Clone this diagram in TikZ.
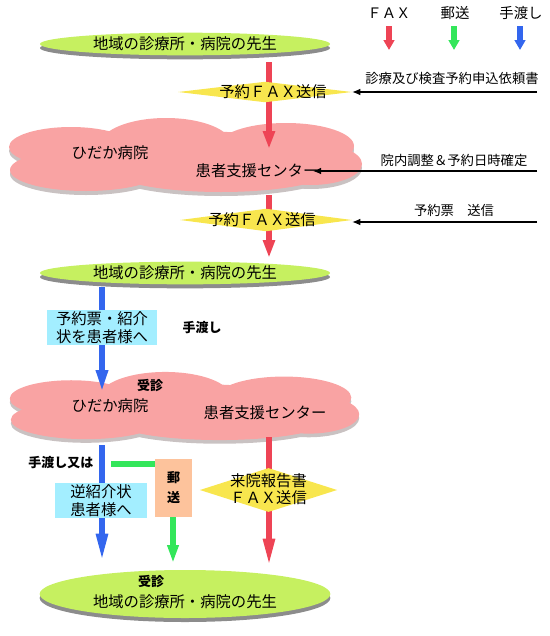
\documentclass[tikz,border=0pt]{standalone}
\usepackage{fontspec}
\setmainfont{Noto Sans CJK JP}
\usetikzlibrary{arrows.meta,shapes.geometric,shadows}
\definecolor{faxred}{HTML}{EE4455}
\definecolor{postgreen}{HTML}{33E65A}
\definecolor{handblue}{HTML}{3366EE}
\definecolor{doctorfill}{HTML}{C6F060}
\definecolor{hospfill}{HTML}{F9A3A3}
\definecolor{hospshade}{HTML}{C9C2C2}
\definecolor{faxfill}{HTML}{F8E64E}
\definecolor{handfill}{HTML}{A3EEFF}
\definecolor{postfill}{HTML}{FDC39C}
\tikzset{
  font=\fontsize{11.5pt}{13.5pt}\selectfont,
  faxflow/.style={draw=faxred, line width=4.5pt, -{Triangle[length=13.5pt,width=8.5pt]}},
  postflow/.style={draw=postgreen, line width=5pt, -{Triangle[length=13.5pt,width=8pt]}},
  handflow/.style={draw=handblue, line width=4.5pt, -{Triangle[length=18pt,width=8pt]}},
  legendtip/.style={-{Triangle[length=7.5pt,width=8pt]}},
  longtip/.style={-{Triangle[length=22pt,width=8pt]}},
  reqflow/.style={draw=black, line width=.8pt, -{Latex[length=6pt,width=5pt]}},
  doctor/.style={ellipse, fill=doctorfill, minimum width=217.5pt,
    minimum height=17pt, inner sep=0pt,
    drop shadow={shadow xshift=0pt, shadow yshift=-3pt, opacity=.45, fill=black}},
  faxsend/.style={diamond, fill=faxfill, inner sep=0pt},
  handbox/.style={fill=handfill, align=center, inner sep=0pt,
    minimum height=26.25pt},
  postbox/.style={fill=postfill, align=center, inner sep=0pt,
    font=\bfseries\fontsize{9.75pt}{15pt}\selectfont},
  note/.style={font=\fontsize{10pt}{12pt}\selectfont},
  tag/.style={font=\bfseries\fontsize{9.75pt}{12pt}\selectfont},
  legend/.style={font=\fontsize{10.8pt}{13pt}\selectfont}
}
% cloud made of overlapping ellipses: name, centre, xscale, yscale
\newcommand{\HospitalCloud}[4]{%
  \node[inner sep=0pt, minimum width=#3*264pt, minimum height=#4*55.5pt] (#1) at #2 {};
  \begin{scope}[shift={(#1.center)}, xscale=#3, yscale=#4]
    \foreach \dy/\col in {4/hospshade, 0/hospfill} {
      \fill[\col, shift={(0,\dy)}]
        (-115,-8) ellipse [x radius=62, y radius=20]
        (-20,-10) ellipse [x radius=66, y radius=27]
        (100,-9) ellipse [x radius=68, y radius=23]
        (-100,15) ellipse [x radius=76, y radius=21]
        (35,14) ellipse [x radius=112, y radius=23]
        (125,9) ellipse [x radius=51, y radius=21]
        (0,2) ellipse [x radius=150, y radius=26];
    }
  \end{scope}
}

\begin{document}
\begin{tikzpicture}[x=.75pt,y=-.75pt]
  \useasboundingbox (0,0) rectangle (550,636);

  % legend
  \node[legend] (lfax) at (389,13) {ＦＡＸ};
  \node[legend] (lpost) at (455,13) {郵送};
  \node[legend] (lhand) at (521,13) {手渡し};
  \foreach \name/\x/\kind in {lfax/389/faxflow, lpost/454/postflow, lhand/520/handflow} {
    \coordinate (\name a) at (\x,26);
    \coordinate (\name b) at (\x,50);
    \draw[\kind, legendtip] (\name a) -- (\name b);
  }

  % doctors and hospital
  \node[doctor] (doc1) at (185,44) {地域の診療所・病院の先生};
  \HospitalCloud{hosp1}{(186,155)}{1}{1}
  \node[doctor] (doc2) at (185,273) {地域の診療所・病院の先生};
  \HospitalCloud{hosp2}{(185,406)}{.99}{.92}
  \node[doctor, minimum width=218pt, minimum height=36pt] (doc3) at (185,594) {};

  % colored flows
  \coordinate (fax1a) at (269,62);  \coordinate (fax1b) at (269,149);
  \coordinate (fax2a) at (269,195); \coordinate (fax2b) at (269,258);
  \coordinate (fax3a) at (269,437); \coordinate (fax3b) at (269,568);
  \coordinate (hand1a) at (102,287); \coordinate (hand1b) at (102,394);
  \coordinate (hand2a) at (102,445); \coordinate (hand2b) at (102,563);
  \coordinate (post1a) at (111,464); \coordinate (post1b) at (173,563);
  \draw[faxflow] (fax1a) -- (fax1b);
  \draw[faxflow] (fax2a) -- (fax2b);
  \draw[faxflow, longtip] (fax3a) -- (fax3b);
  \draw[handflow] (hand1a) -- (hand1b);
  \draw[handflow, longtip] (hand2a) -- (hand2b);
  \draw[postflow] (post1a) -| (post1b);

  % fax sends
  \node[faxsend, minimum width=130.5pt, minimum height=15.5pt] (send1) at (265,92) {};
  \node (send1t) at (273,92) {予約ＦＡＸ送信};
  \node[faxsend, minimum width=129pt, minimum height=17pt] (send2) at (266,220) {};
  \node (send2t) at (262,220) {予約ＦＡＸ送信};
  \node[faxsend, minimum width=103pt, minimum height=33pt] (send3) at (268.5,490) {};
  \node[align=center, font=\fontsize{11.5pt}{12.75pt}\selectfont] (send3t) at (268.5,489.5)
    {来院報告書\\ＦＡＸ送信};

  % hospital labels
  \node (hname1) at (110,153) {ひだか病院};
  \node (center1) at (257,171) {患者支援センター};
  \node[tag] (visit1) at (150,386) {受診};
  \node (hname2) at (110,406) {ひだか病院};
  \node (center2) at (265,413) {患者支援センター};
  \node[tag] (visit2) at (151,582) {受診};
  \node (doc3t) at (185,602) {地域の診療所・病院の先生};

  % hand-over and post
  \node[handbox, minimum width=82.5pt] (ticket) at (102,327.5) {予約票・紹介\\状を患者様へ};
  \node[tag] (handtag) at (202,328) {手渡し};
  \node[tag] (ortag) at (61,463) {手渡し又は};
  \node[handbox, minimum width=69pt] (letter) at (101,500.5) {逆紹介状\\患者様へ};
  \node[postbox, minimum width=27.75pt, minimum height=43.5pt] (post) at (173.5,488) {郵\\送};

  % requests
  \coordinate (req1) at (537,92);
  \coordinate (req2) at (537,171);
  \coordinate (req3) at (537,222);
  \coordinate (center1e) at (313,171);
  \draw[reqflow] (req1) -- (send1.east);
  \draw[reqflow] (req2) -- (center1e);
  \draw[reqflow] (req3) -- (send2.east |- req3);
  \node[note] (req1t) at (452,78) {診療及び検査予約申込依頼書};
  \node[note] (req2t) at (454,160) {院内調整＆予約日時確定};
  \node[note] (req3t) at (454,210) {予約票　送信};
\end{tikzpicture}
\end{document}
